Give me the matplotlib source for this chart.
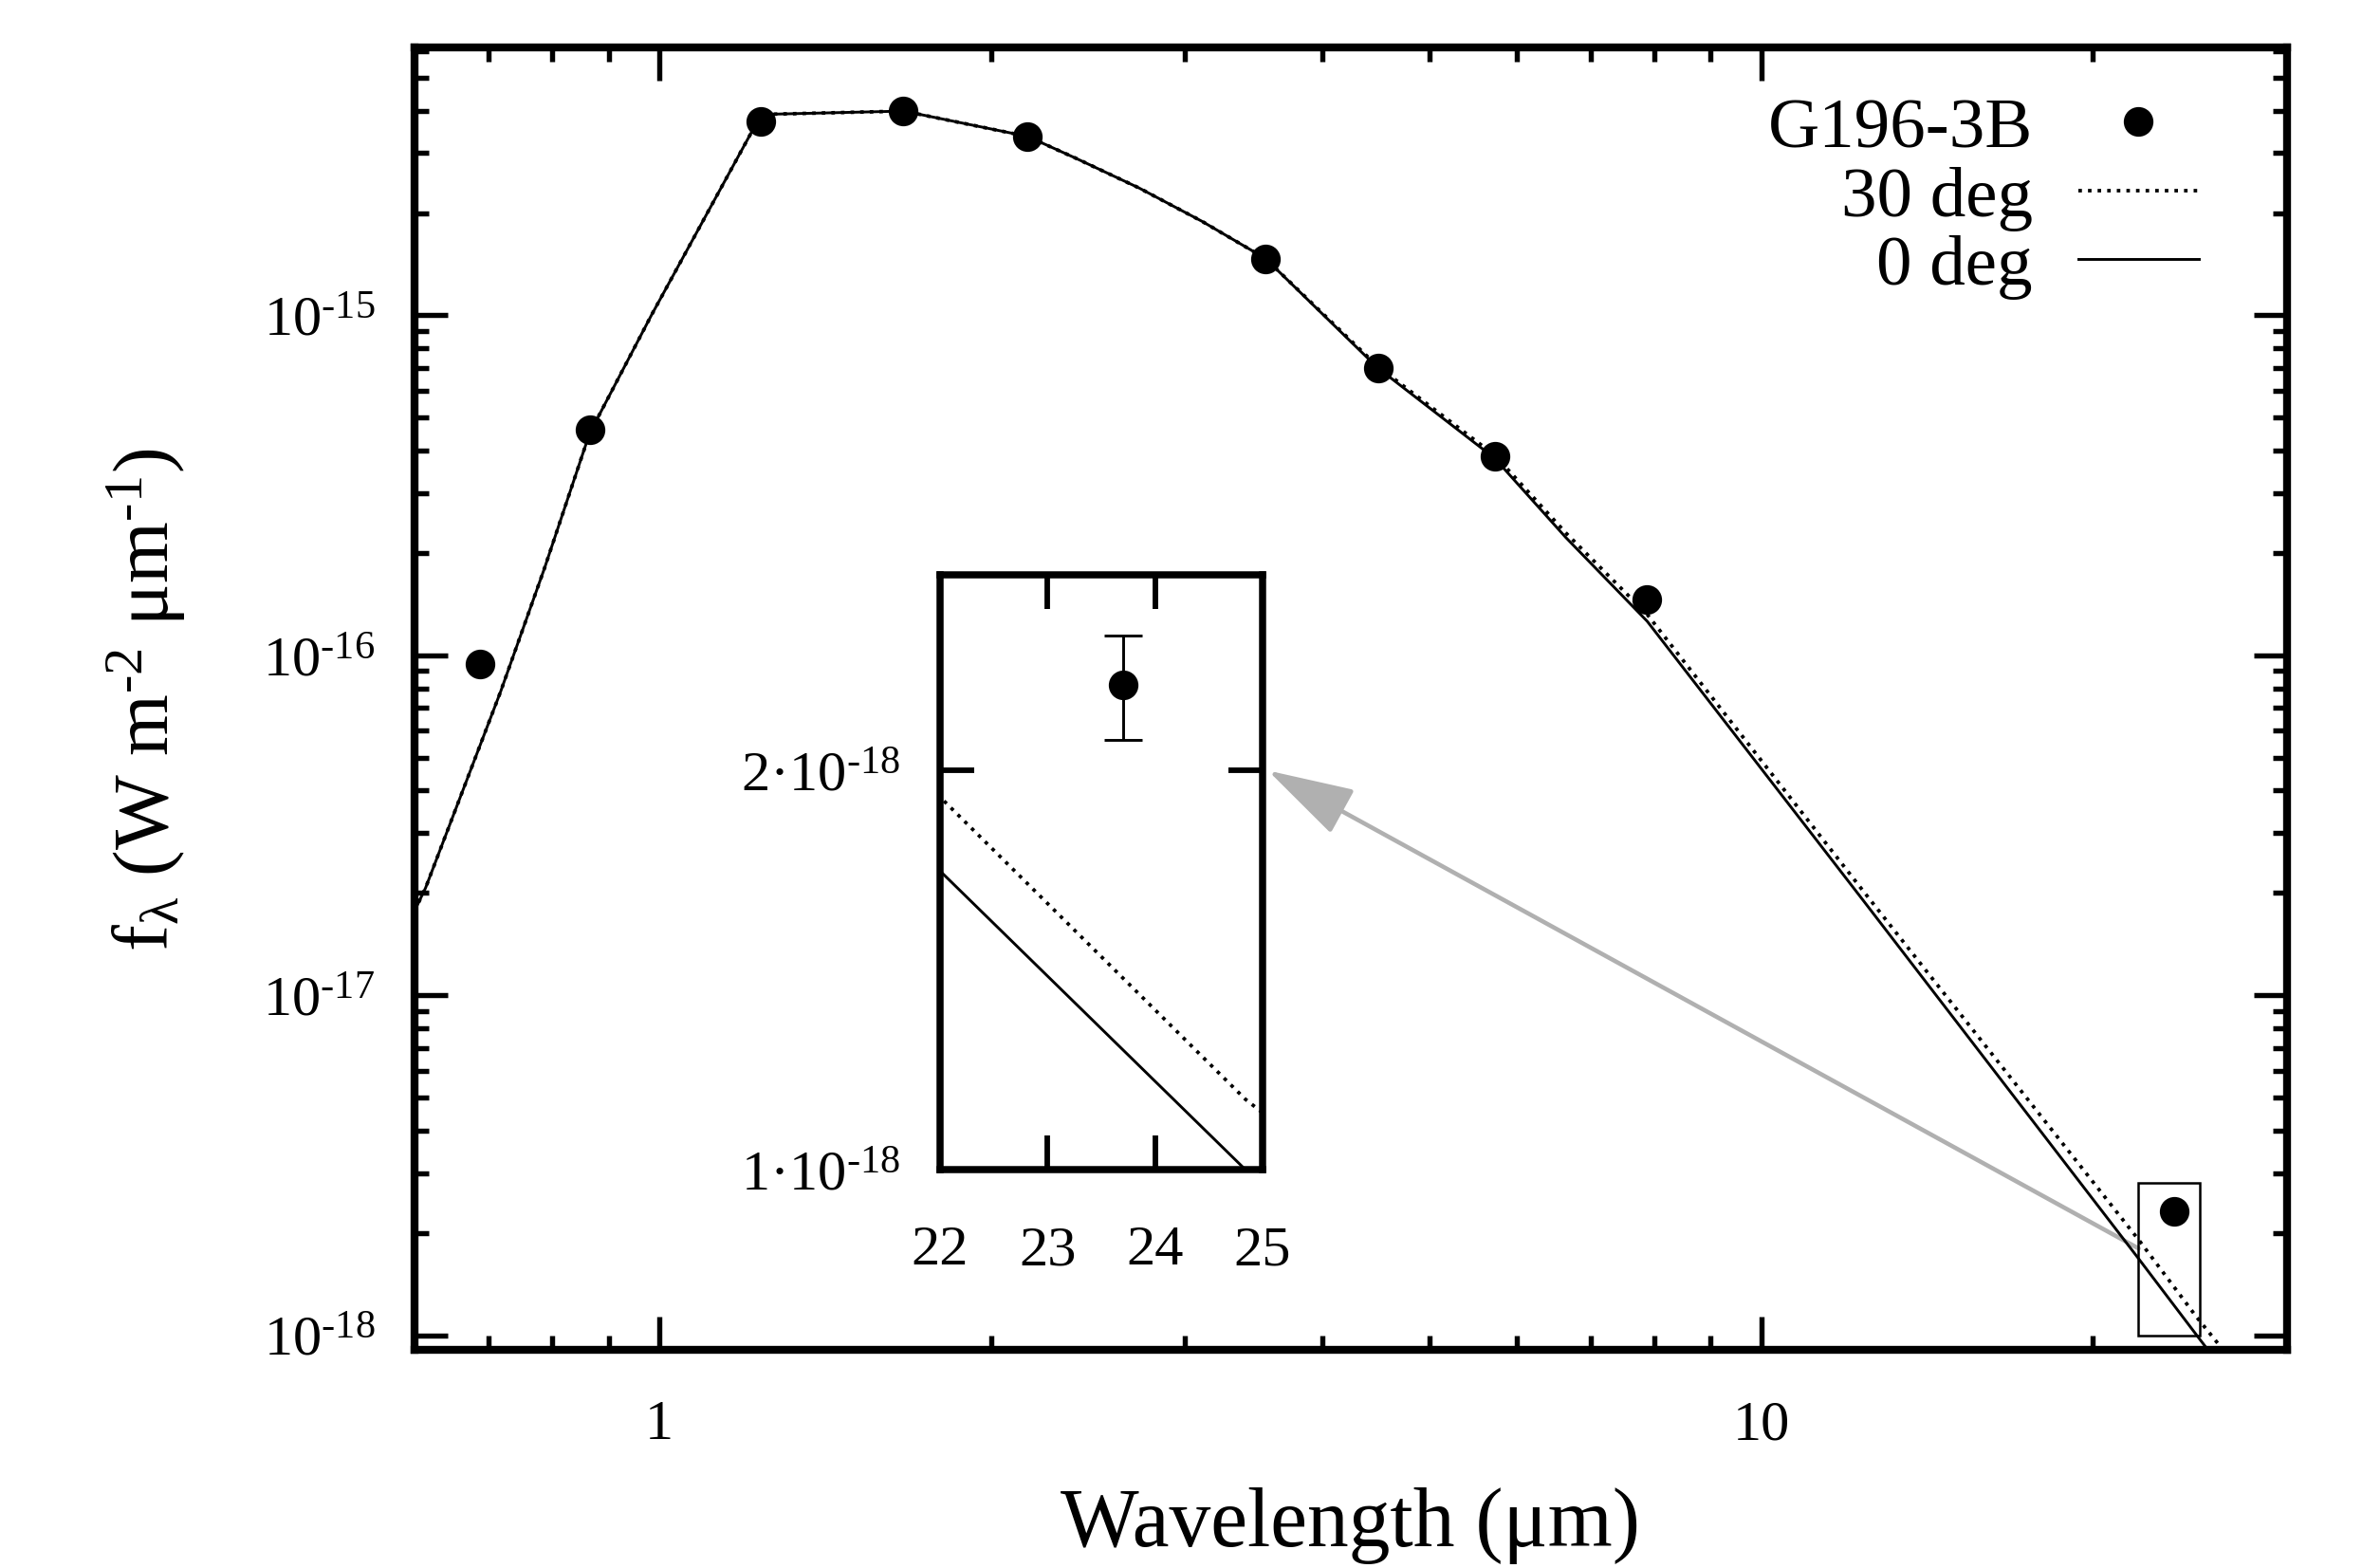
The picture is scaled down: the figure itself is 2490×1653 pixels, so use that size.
import matplotlib
matplotlib.use("Agg")
import matplotlib.pyplot as plt
from matplotlib.ticker import LogLocator, NullFormatter, NullLocator
from matplotlib.patches import Rectangle

plt.rcParams['font.family'] = ['Liberation Serif', 'DejaVu Serif']
plt.rcParams['mathtext.fontset'] = 'custom'
plt.rcParams['mathtext.rm'] = 'Liberation Serif'
plt.rcParams['mathtext.it'] = 'Liberation Serif:italic'
plt.rcParams['mathtext.bf'] = 'Liberation Serif:bold'

# ---------------- data ----------------
obs_wl = [0.688, 0.865, 1.238, 1.665, 2.16, 3.55, 4.49, 5.73, 7.88, 23.7]
obs_flux = [9.4e-17, 4.6e-16, 3.72e-15, 3.99e-15, 3.36e-15, 1.47e-15, 7.0e-16,
            3.85e-16, 1.46e-16, 2.32e-18]
obs_err = [0, 0, 0, 0, 0, 0, 0, 0, 0, 0.21e-18]

model_wl = [0.6, 0.614, 0.718, 0.787, 0.865, 0.984, 1.238, 1.667, 2.16, 2.388,
            2.726, 3.11, 3.55, 4.49, 5.73, 6.65, 7.88, 12.37, 22.0, 24.84, 30.0]
flux_0deg = [1.77e-17, 2.07e-17, 7.8e-17, 1.8e-16, 4.5e-16, 1.0e-15, 3.9e-15,
             3.99e-15, 3.36e-15, 2.9e-15, 2.37e-15, 1.89e-15, 1.47e-15,
             7.0e-16, 3.8e-16, 2.22e-16, 1.26e-16, 1.905e-17, 1.68e-18,
             1.0e-18, 4.5e-19]
flux_30deg = [1.77e-17, 2.07e-17, 7.8e-17, 1.8e-16, 4.5e-16, 1.0e-15, 3.9e-15,
              3.99e-15, 3.36e-15, 2.9e-15, 2.37e-15, 1.89e-15, 1.47e-15,
              7.07e-16, 3.88e-16, 2.29e-16, 1.32e-16, 2.03e-17, 1.91e-18,
              1.13e-18, 5.3e-19]

x_ticks = [1, 10]
x_tick_labels = ['1', '10']
y_ticks = [1e-18, 1e-17, 1e-16, 1e-15]
y_tick_labels = ['10$^{\\mathregular{\u201018}}$', '10$^{\\mathregular{\u201017}}$',
                 '10$^{\\mathregular{\u201016}}$', '10$^{\\mathregular{\u201015}}$']

inset_x_ticks = [22, 23, 24, 25]
inset_x_labels = ['22', '23', '24', '25']
inset_y_ticks = [1e-18, 2e-18]
inset_y_labels = ['1·10$^{\\mathregular{\u201018}}$', '2·10$^{\\mathregular{\u201018}}$']

legend_labels = ['G196-3B', '30 deg', '0 deg']
xlabel = 'Wavelength (μm)'
ylabel = ('f$_{\\mathregular{λ}}$ (W m$^{\\mathregular{\u20102}}$ '
          'μm$^{\\mathregular{\u20101}}$)')

arrow_tail = (22.0, 1.8e-18)
arrow_head = (25.05, 2e-18)

# ---------------- figure ----------------
fig = plt.figure(figsize=(8.3, 5.5133), dpi=300)
ax = fig.add_axes([0.17550, 0.13906, 0.79277, 0.83011])

dotted = (0, (1, 1.7))
h0, = ax.plot(model_wl, flux_0deg, color='black', lw=0.7, zorder=2)
h30, = ax.plot(model_wl, flux_30deg, color='black', lw=0.9, ls=dotted, zorder=2)
hobs, = ax.plot(obs_wl, obs_flux, 'o', color='black', ms=6.5, zorder=3)

ax.set_xscale('log')
ax.set_yscale('log')
ax.set_xlim(0.6, 30)
ax.set_ylim(9.06e-19, 6.14e-15)
ax.set_xticks(x_ticks, labels=x_tick_labels)
ax.set_yticks(y_ticks, labels=y_tick_labels)
ax.xaxis.set_minor_locator(LogLocator(base=10, subs=range(2, 10)))
ax.yaxis.set_minor_locator(LogLocator(base=10, subs=range(2, 10)))
ax.xaxis.set_minor_formatter(NullFormatter())
ax.yaxis.set_minor_formatter(NullFormatter())
ax.tick_params(which='both', direction='in', top=True, right=True, width=1.3)
ax.tick_params(which='major', length=8.4)
ax.tick_params(which='minor', length=3.6)
ax.tick_params(axis='x', which='major', pad=12.5, labelsize=14.5)
ax.tick_params(axis='y', which='major', pad=10, labelsize=14.5)
for s in ax.spines.values():
    s.set_linewidth(2.0)

ax.set_xlabel(xlabel, fontsize=21, labelpad=9)
ax.set_ylabel(ylabel, fontsize=20, labelpad=19)

leg = ax.legend([hobs, h30, h0], legend_labels, loc='upper right',
                bbox_to_anchor=(0.953, 0.962), markerfirst=False, frameon=False,
                fontsize=18, numpoints=1, handlelength=1.7, handletextpad=0.64,
                labelspacing=0.05, borderpad=0, borderaxespad=0)

# ---------------- inset ----------------
axins = fig.add_axes([0.39799, 0.25393, 0.13655, 0.37908])
axins.plot(model_wl, flux_0deg, color='black', lw=0.7)
axins.plot(model_wl, flux_30deg, color='black', lw=0.9, ls=dotted)
sel = [i for i, w in enumerate(obs_wl) if 22 <= w <= 25]
axins.errorbar([obs_wl[i] for i in sel], [obs_flux[i] for i in sel],
               yerr=[obs_err[i] for i in sel], fmt='o', color='black', ms=6.5,
               capsize=4.9, elinewidth=0.7, capthick=0.7)
axins.set_yscale('log')
axins.set_xlim(22, 25)
axins.set_ylim(1e-18, 2.81e-18)
axins.set_xticks(inset_x_ticks, labels=inset_x_labels)
axins.set_yticks(inset_y_ticks, labels=inset_y_labels)
axins.yaxis.set_minor_locator(NullLocator())
axins.xaxis.set_minor_locator(NullLocator())
axins.tick_params(which='major', direction='in', top=True, right=True,
                  length=8.6, width=1.4, labelsize=14.5)
axins.tick_params(axis='x', pad=14)
axins.tick_params(axis='y', pad=10)
for s in axins.spines.values():
    s.set_linewidth(1.8)

# zoom rectangle on main axes
x0, x1 = axins.get_xlim()
y0, y1 = axins.get_ylim()
ax.add_patch(Rectangle((x0, y0), x1 - x0, y1 - y0, fill=False,
                       edgecolor='black', lw=0.6, zorder=2))

# gray arrow from rectangle to inset
ax.annotate('', xy=arrow_head, xycoords=axins.transData,
            xytext=arrow_tail, textcoords=ax.transData,
            arrowprops=dict(arrowstyle='-|>,head_length=19,head_width=5.5',
                            mutation_scale=1, color='#b0b0b0', lw=1.1,
                            shrinkA=0, shrinkB=0), zorder=1)

fig.savefig('out.png', dpi=300)
